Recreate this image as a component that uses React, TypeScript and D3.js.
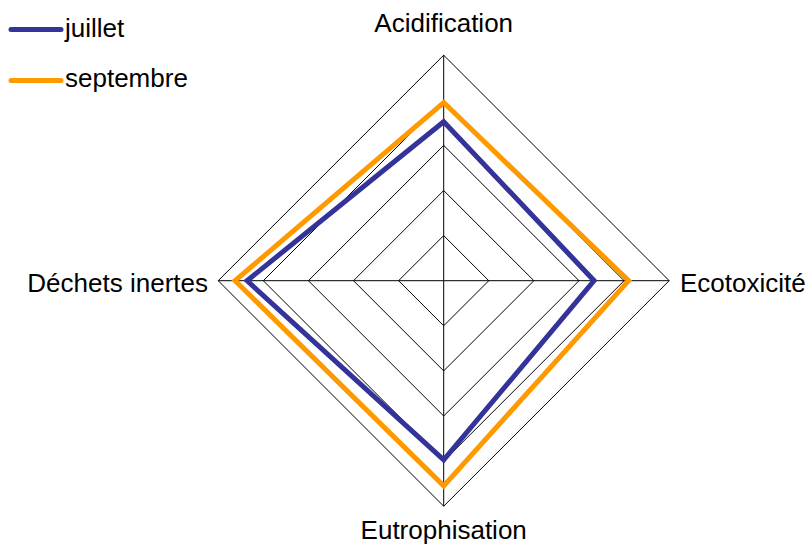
import React from "react";
import * as d3 from "d3";

const axes = ["Acidification", "Ecotoxicité", "Eutrophisation", "Déchets inertes"];
const seriesNames = ["juillet", "septembre"];
const juillet = [0.705, 0.667, 0.795, 0.872];
const septembre = [0.79, 0.82, 0.91, 0.925];
const ringLevels = [0.2, 0.4, 0.6, 0.8, 1.0];
const colors = ["#333399", "#FF9900"];

export default function App() {
  const W = 811, H = 548;
  const cx = 443.7, cy = 280.7, R = 225.5;
  const r = d3.scaleLinear().domain([0, 1]).range([0, R]);
  const angle = (i: number) => (i * 2 * Math.PI) / axes.length; // 0 = top, clockwise
  const pt = (i: number, v: number): [number, number] => [
    cx + r(v) * Math.sin(angle(i)),
    cy - r(v) * Math.cos(angle(i)),
  ];
  const closed = d3.line().curve(d3.curveLinearClosed);
  const data = [juillet, septembre];
  const font = "Arial, 'Liberation Sans', sans-serif";
  const fs = 26;

  return (
    <svg width={W} height={H} style={{ position: "absolute", left: 0, top: 0, background: "#fff" }}>
      {ringLevels.map((lv) => (
        <path key={lv} d={closed(axes.map((_, i) => pt(i, lv))) || ""} fill="none" stroke="#000" strokeWidth={1} />
      ))}
      {axes.map((_, i) => {
        const [x, y] = pt(i, 1);
        return <line key={i} x1={cx} y1={cy} x2={x} y2={y} stroke="#000" strokeWidth={1} />;
      })}
      {data.map((vals, s) => (
        <path
          key={s}
          d={closed(vals.map((v, i) => pt(i, v))) || ""}
          fill="none"
          stroke={colors[s]}
          strokeWidth={5}
          strokeLinejoin="miter"
        />
      ))}
      <text x={cx} y={32} textAnchor="middle" fontFamily={font} fontSize={fs}>{axes[0]}</text>
      <text x={680} y={292} textAnchor="start" fontFamily={font} fontSize={fs}>{axes[1]}</text>
      <text x={cx} y={539} textAnchor="middle" fontFamily={font} fontSize={fs}>{axes[2]}</text>
      <text x={208} y={292} textAnchor="end" fontFamily={font} fontSize={fs}>{axes[3]}</text>
      {seriesNames.map((n, s) => (
        <g key={n}>
          <line x1={11} x2={61} y1={29.5 + s * 51} y2={29.5 + s * 51} stroke={colors[s]} strokeWidth={5} strokeLinecap="round" />
          <text x={65} y={37 + s * 50} fontFamily={font} fontSize={fs}>{n}</text>
        </g>
      ))}
    </svg>
  );
}
